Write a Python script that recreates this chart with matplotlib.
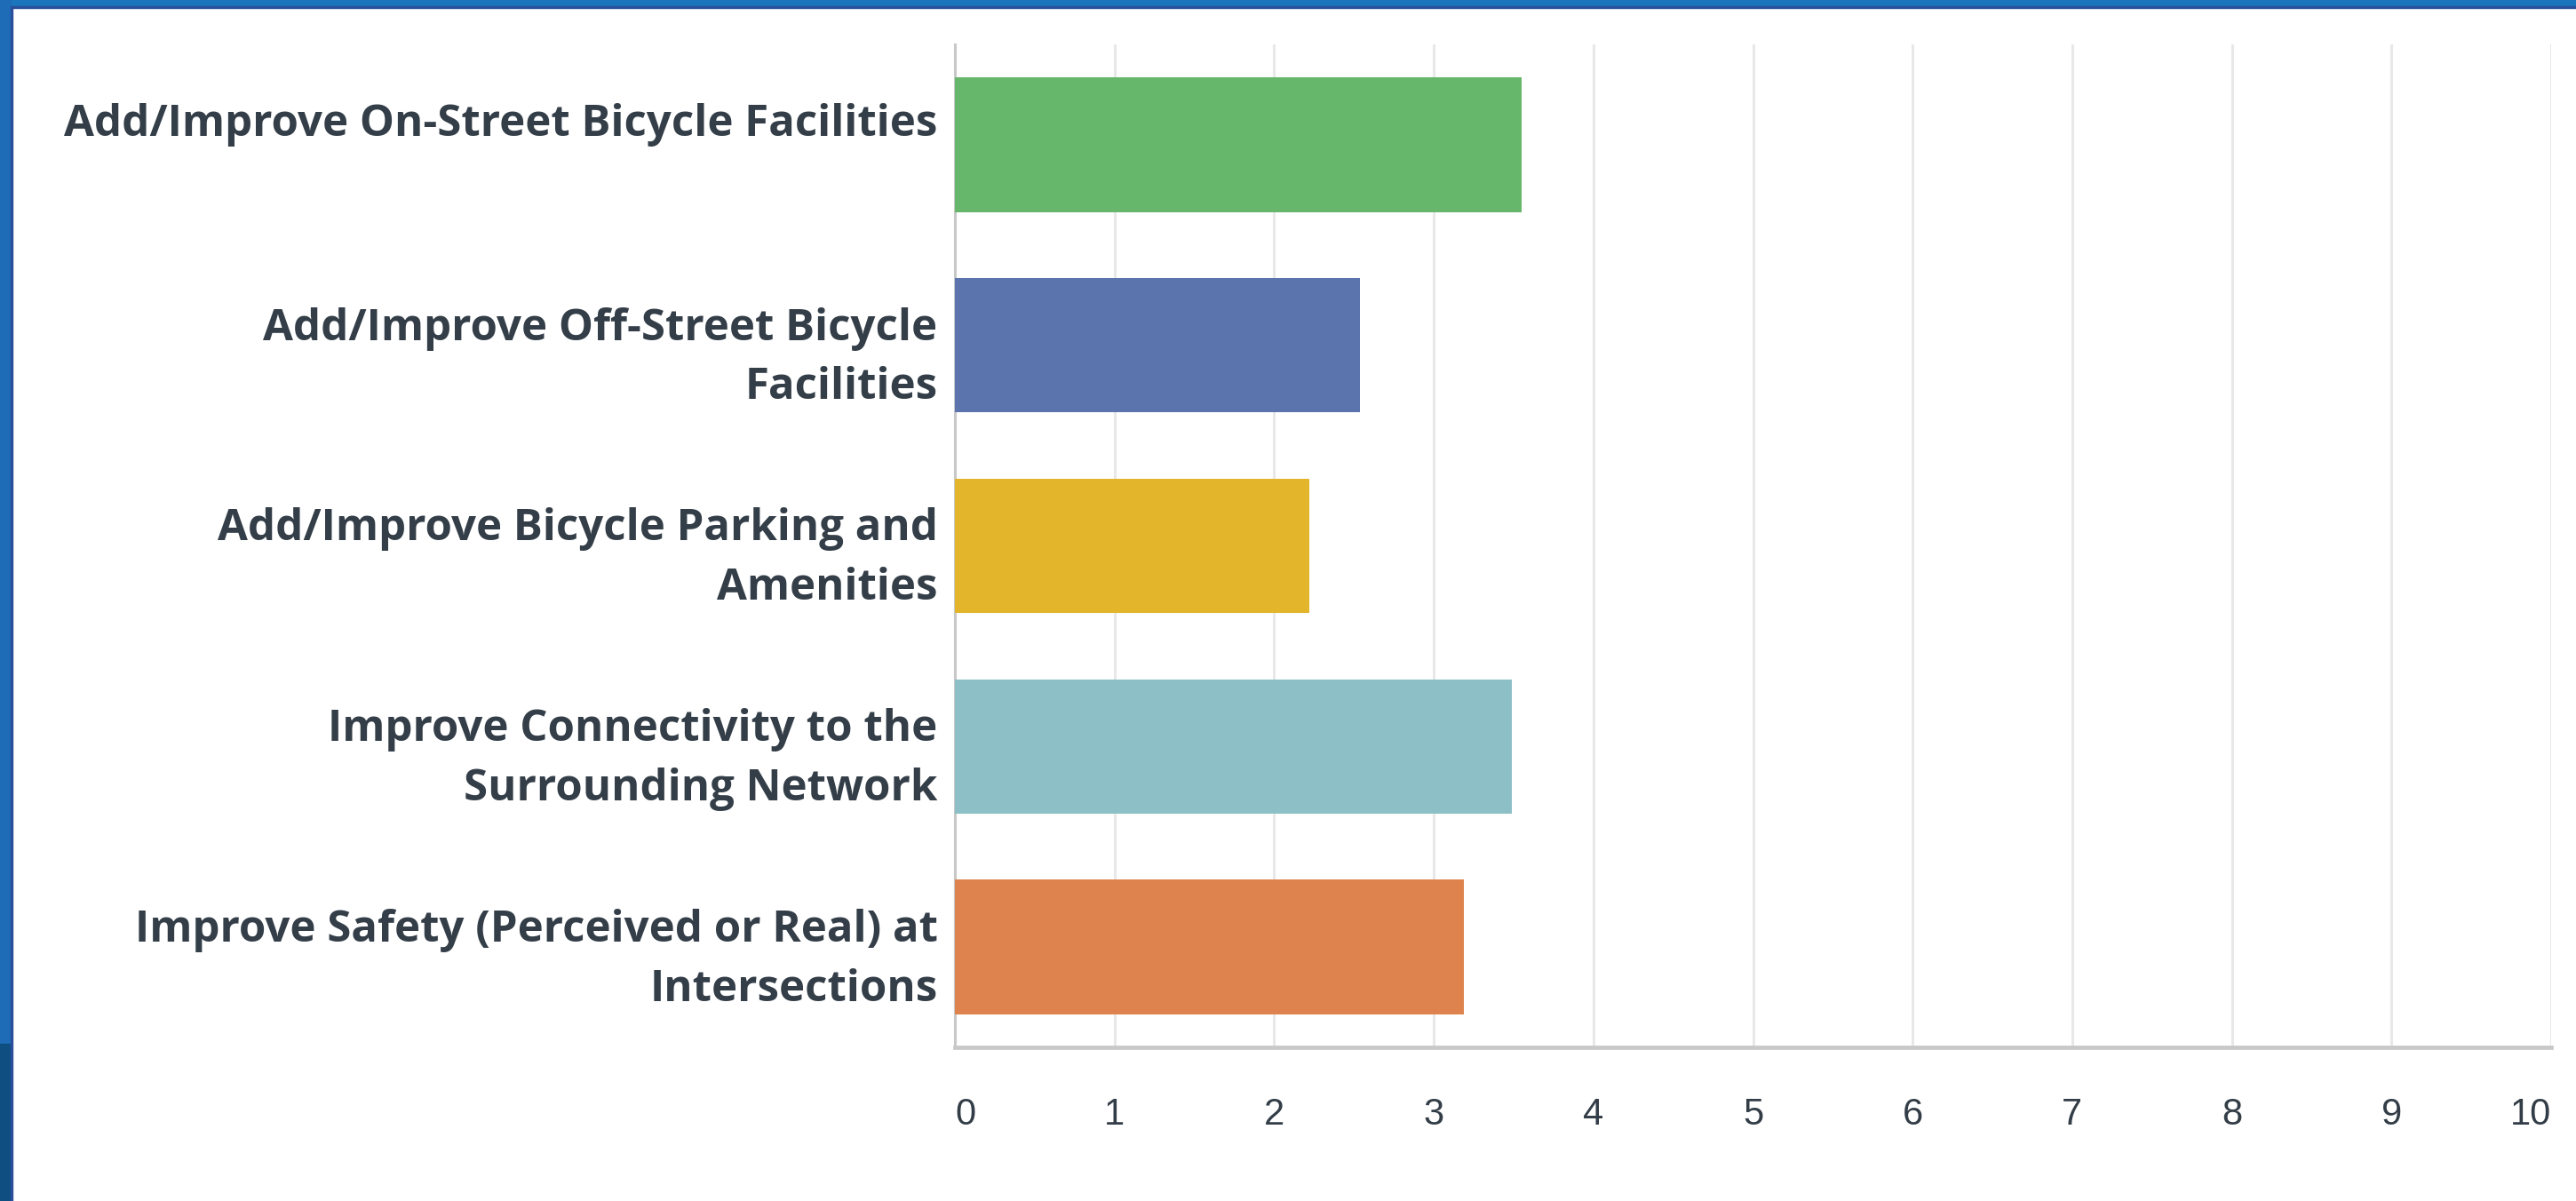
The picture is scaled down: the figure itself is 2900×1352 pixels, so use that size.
import matplotlib.pyplot as plt
import matplotlib.transforms as mtransforms
from matplotlib.patches import Rectangle

# data
categories = [
    "Add/Improve On-Street Bicycle Facilities",
    "Add/Improve Off-Street Bicycle\nFacilities",
    "Add/Improve Bicycle Parking and\nAmenities",
    "Improve Connectivity to the\nSurrounding Network",
    "Improve Safety (Perceived or Real) at\nIntersections",
]
values = [3.55, 2.54, 2.22, 3.49, 3.19]
colors = ["#66b76b", "#5b74ad", "#e2b52b", "#8cc0c6", "#df834e"]
xticks = list(range(0, 11))

W, H, DPI = 2900, 1352, 100
fig = plt.figure(figsize=(W / DPI, H / DPI), dpi=DPI)
fig.patch.set_facecolor("white")

# screenshot frame: blue bar on top and left
fig.add_artist(Rectangle((0, 1 - 7 / H), 1, 7 / H, transform=fig.transFigure,
                         color="#1a75bc", zorder=0))
fig.add_artist(Rectangle((0, 1 - 9 / H), 1, 2 / H, transform=fig.transFigure,
                         color="#2a4f9a", zorder=0))
fig.add_artist(Rectangle((0, 0), 12 / W, 1, transform=fig.transFigure,
                         color="#1e6cb8", zorder=0))
fig.add_artist(Rectangle((0, 0), 12 / W, 177 / H, transform=fig.transFigure,
                         color="#0e4e80", zorder=0))
fig.add_artist(Rectangle((12 / W, 0), 2 / W, 1 - 7 / H, transform=fig.transFigure,
                         color="#2c4f9c", zorder=0))

ax = fig.add_axes([1075 / W, 1 - 1179 / H, (2872 - 1075) / W, (1179 - 50) / H])

y = list(range(len(categories)))
ax.barh(y, values, height=0.67, color=colors, zorder=3)

ax.set_xlim(0, 10)
ax.set_ylim(len(categories) - 0.5, -0.5)
ax.set_xticks(xticks)
ax.set_xticklabels([str(t) for t in xticks], fontsize=30, color="#333d47",
                   family="Liberation Sans")
ax.set_yticks(y)
ax.set_yticklabels(categories, fontsize=35.4, fontweight="bold", color="#343e48",
                   family="Open Sans", linespacing=1.48)
ax.tick_params(axis="x", length=0, pad=40)
ax.tick_params(axis="y", length=0, pad=14)

# edge labels kept inside the axis like the original
xl = ax.get_xticklabels()
xl[0].set_ha("left")
xl[-1].set_ha("right")
# single-line label sits higher, as in the original
yl = ax.get_yticklabels()
yl[0].set_transform(yl[0].get_transform() +
                    mtransforms.ScaledTranslation(0, 28 / DPI, fig.dpi_scale_trans))

ax.set_axisbelow(True)
ax.grid(axis="x", color="#e8e8e8", linewidth=2.2)
ax.grid(axis="y", visible=False)

for s in ["top", "right"]:
    ax.spines[s].set_visible(False)
ax.spines["left"].set_color("#c8c8c8")
ax.spines["left"].set_linewidth(2.2)
ax.spines["left"].set_zorder(2)
ax.spines["bottom"].set_color("#c8c8c8")
ax.spines["bottom"].set_linewidth(3.4)

fig.savefig("out.png", dpi=DPI)
